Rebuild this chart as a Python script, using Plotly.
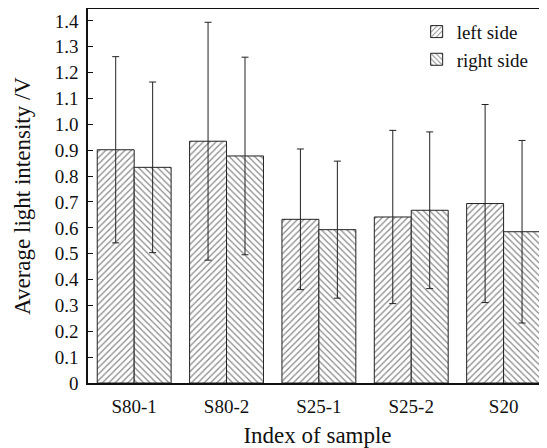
import plotly.graph_objects as go

categories = ["S80-1", "S80-2", "S25-1", "S25-2", "S20"]
left_side = [0.902, 0.935, 0.633, 0.642, 0.694]
left_err = [0.36, 0.46, 0.272, 0.335, 0.383]
right_side = [0.834, 0.878, 0.593, 0.668, 0.585]
right_err = [0.33, 0.382, 0.265, 0.303, 0.353]
y_ticks = [round(0.1 * i, 1) for i in range(15)]
y_ticklabels = ["0"] + [f"{v:.1f}" for v in y_ticks[1:]]

FONT = "Liberation Serif, Times New Roman, serif"

fig = go.Figure()
fig.add_trace(go.Bar(
    name="left side", x=categories, y=left_side,
    error_y=dict(type="data", array=left_err, color="#222", thickness=1, width=3.5),
    marker=dict(color="white", line=dict(color="#222", width=1),
                pattern=dict(shape="/", fgcolor="#111", bgcolor="white", size=4.5, solidity=0.28)),
))
fig.add_trace(go.Bar(
    name="right side", x=categories, y=right_side,
    error_y=dict(type="data", array=right_err, color="#222", thickness=1, width=3.5),
    marker=dict(color="white", line=dict(color="#222", width=1),
                pattern=dict(shape="\\", fgcolor="#111", bgcolor="white", size=4.5, solidity=0.28)),
))

# The page adds an 8px body margin, so the figure is sized to fit the window.
fig.update_layout(
    width=539, height=440,
    margin=dict(l=80, r=0, t=1, b=65, autoexpand=False),
    paper_bgcolor="white", plot_bgcolor="white",
    font=dict(family=FONT, size=19, color="#111"),
    barmode="group", bargap=0.2, bargroupgap=0,
    legend=dict(x=0.716, y=0.99, xanchor="left", yanchor="top",
                font=dict(size=19), bgcolor="rgba(0,0,0,0)",
                tracegroupgap=0, itemwidth=30),
    xaxis=dict(range=[-0.5, 4.47], showline=True, linecolor="#111", linewidth=1.5,
               mirror=True, ticks="", showgrid=False, zeroline=False, automargin=False,
               ticklabelstandoff=5,
               title=dict(text="Index of sample", standoff=12),
               tickfont=dict(size=19)),
    yaxis=dict(range=[0, 1.4 + 12/259], tickvals=y_ticks, ticktext=y_ticklabels,
               showline=True, linecolor="#111", linewidth=1.5, mirror=False,
               ticks="inside", ticklen=5, tickwidth=1, tickcolor="#111",
               showgrid=False, zeroline=False, automargin=False,
               ticklabelstandoff=4,
               title=dict(text="Average light intensity /V", standoff=18),
               tickfont=dict(size=19)),
)

fig.write_html("out.html")
